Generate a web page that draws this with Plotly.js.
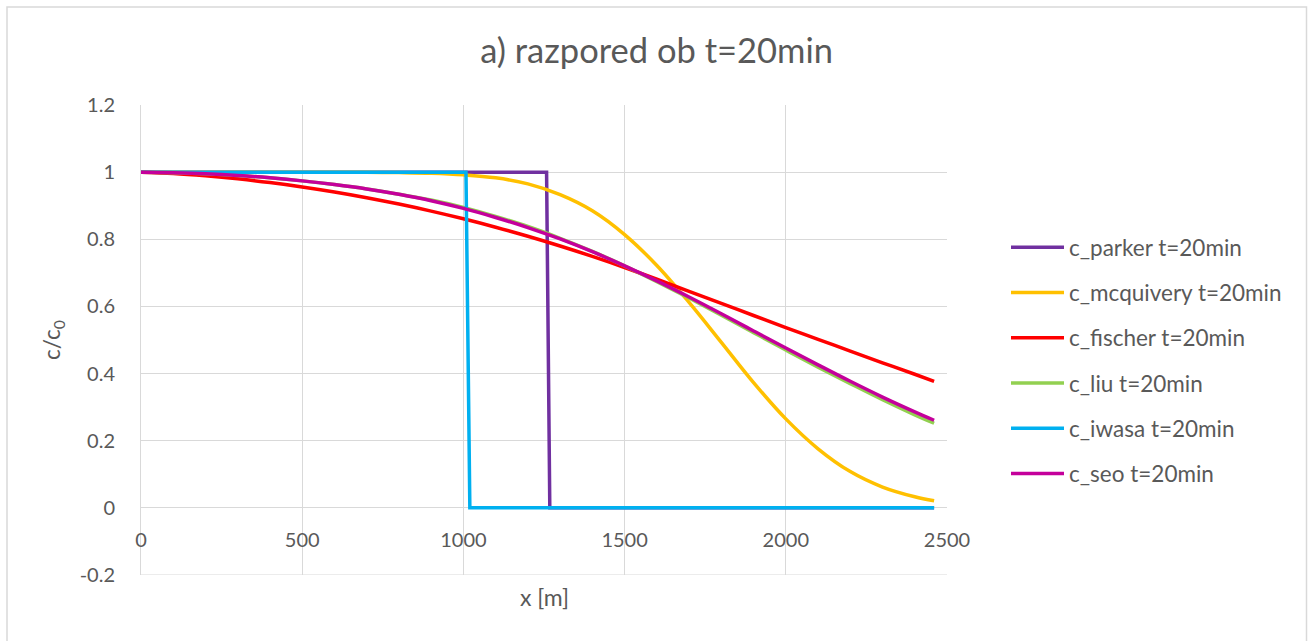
<!DOCTYPE html>
<html>
<head>
<meta charset="utf-8">
<script src="https://cdn.plot.ly/plotly-3.0.1.min.js"></script>
<style>
html,body{margin:0;padding:0;background:#fff;}
#chart{width:1308px;height:641px;}
</style>
</head>
<body>
<div id="chart"></div>
<script>
// ---- data ----
const xs = [0,100,200,300,400,500,600,700,800,900,1000,1100,1200,1300,1400,1500,1600,1700,1800,1900,2000,2100,2200,2300,2400,2460];

const parkerX = [0,1258,1268,2460];
const parkerY = [1,1,0,0];

const mcquiveryY = [1.000,1.000,1.000,1.000,1.000,1.000,1.000,0.9996,0.9986,0.9967,0.992,0.983,0.965,0.933,0.885,0.814,0.722,0.612,0.493,0.373,0.265,0.176,0.108,0.062,0.033,0.021];

const fischerY = [1.000,0.996,0.989,0.980,0.969,0.956,0.941,0.924,0.905,0.884,0.861,0.836,0.809,0.780,0.749,0.716,0.681,0.645,0.609,0.573,0.537,0.502,0.467,0.432,0.398,0.377];

const liuY = [1.000,0.998,0.995,0.990,0.983,0.974,0.963,0.950,0.934,0.917,0.895,0.868,0.838,0.803,0.764,0.721,0.674,0.625,0.574,0.522,0.470,0.419,0.370,0.322,0.277,0.252];

const iwasaX = [0,1008,1020,2460];
const iwasaY = [1,1,0,0];

const seoY = [1.000,0.998,0.995,0.990,0.983,0.974,0.963,0.950,0.934,0.915,0.892,0.865,0.835,0.801,0.763,0.721,0.676,0.628,0.578,0.527,0.476,0.426,0.377,0.330,0.286,0.261];

const seriesNames = ['c_parker t=20min','c_mcquivery t=20min','c_fischer t=20min','c_liu t=20min','c_iwasa t=20min','c_seo t=20min'];
const seriesColors = ['#7030A0','#FFC000','#FF0000','#92D050','#00B0F0','#C4009B'];

const xTickVals = [0,500,1000,1500,2000,2500];
const xTickText = ['0','500','1000','1500','2000','2500'];
const yTickVals = [-0.2,0,0.2,0.4,0.6,0.8,1,1.2];
const yTickText = ['-0.2','0','0.2','0.4','0.6','0.8','1','1.2'];

const titleText = 'a) razpored ob t=20min';
const xTitle = 'x [m]';
const yTitle = 'c/c<sub>0</sub>';

// ---- chart ----
const FONT = 'Lato, "Noto Sans", sans-serif';
const TXT = '#595959';
const GRID = '#D9D9D9';

const seriesX = [parkerX, xs, xs, xs, iwasaX, xs];
const seriesY = [parkerY, mcquiveryY, fischerY, liuY, iwasaY, seoY];
const shapesLine = ['linear','spline','spline','spline','linear','spline'];

const traces = seriesNames.map((n,i)=>({
  type:'scatter', mode:'lines', name:n,
  x: seriesX[i], y: seriesY[i],
  legendgroup: 'g'+i,
  line:{color:seriesColors[i], width:3.5, shape:shapesLine[i]},
  hoverinfo:'skip'
}));

const layout = {
  width:1308, height:641,
  margin:{l:141, r:361, t:105, b:66},
  paper_bgcolor:'#fff', plot_bgcolor:'#fff',
  font:{family:FONT, color:TXT, size:20},
  title:{text:titleText, font:{family:FONT, size:34.5, color:TXT},
         x:0.502, xref:'container', xanchor:'center',
         y:1-51/641, yref:'container', yanchor:'middle'},
  xaxis:{
    range:[0,2500], tickvals:xTickVals, ticktext:xTickText,
    showgrid:true, gridcolor:GRID, gridwidth:1,
    zeroline:false, showline:false,
    anchor:'free', position:0.2/1.4,
    ticks:'outside', ticklen:14, tickcolor:'rgba(0,0,0,0)',
    tickfont:{family:FONT, size:20, color:TXT},
    fixedrange:true
  },
  yaxis:{
    range:[-0.2,1.2], tickvals:yTickVals, ticktext:yTickText,
    showgrid:true, gridcolor:GRID, gridwidth:1,
    zeroline:false, showline:true, linecolor:GRID, linewidth:1,
    ticks:'outside', ticklen:21, tickcolor:'rgba(0,0,0,0)',
    tickfont:{family:FONT, size:20, color:TXT},
    title:{text:yTitle, font:{family:FONT, size:22.5, color:TXT}, standoff:12},
    fixedrange:true
  },
  showlegend:true,
  legend:{
    x:(1006-141)/806, xanchor:'left', y:(575-226)/470, yanchor:'top',
    traceorder:'grouped', tracegroupgap:13, itemwidth:53,
    font:{family:FONT, size:22.5, color:TXT},
    bgcolor:'rgba(0,0,0,0)'
  },
  annotations:[{
    text:xTitle, xref:'paper', yref:'paper', x:0.5, y:(575-597)/470,
    xanchor:'center', yanchor:'middle', showarrow:false,
    font:{family:FONT, size:23, color:TXT}
  }],
  shapes:[{
    type:'rect', xref:'paper', yref:'paper',
    x0:(7-141)/806, x1:(1306.5-141)/806, y0:(575-650)/470, y1:(575-7)/470,
    line:{color:GRID, width:1.5}, fillcolor:'rgba(0,0,0,0)', layer:'below'
  },{
    type:'line', xref:'paper', yref:'y', x0:0, x1:1, y0:yTickVals[0], y1:yTickVals[0],
    line:{color:GRID, width:1}, layer:'below'
  }]
};

Plotly.newPlot('chart', traces, layout, {displayModeBar:false, staticPlot:true});
</script>
</body>
</html>
